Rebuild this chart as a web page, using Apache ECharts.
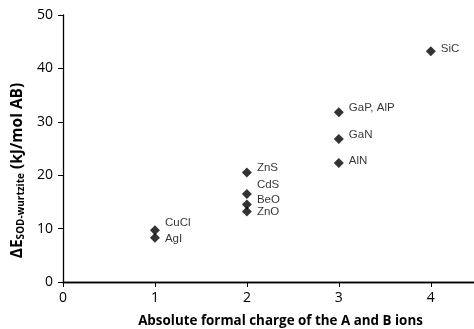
<!DOCTYPE html>
<html>
<head>
<meta charset="utf-8">
<script src="https://cdn.jsdelivr.net/npm/echarts@6/dist/echarts.min.js"></script>
<style>html,body{margin:0;padding:0;background:#fff}#c{width:474px;height:329px}</style>
</head>
<body>
<div id="c"></div>
<script>
var compounds = ['SiC', 'GaP, AlP', 'GaN', 'AlN', 'ZnS', 'CdS', 'BeO', 'ZnO', 'CuCl', 'AgI'];
var charges   = [4, 3, 3, 3, 2, 2, 2, 2, 1, 1];
var deltaE    = [43.2, 31.8, 26.8, 22.3, 20.5, 16.5, 14.5, 13.2, 9.7, 8.3];
var xTicks = [0, 1, 2, 3, 4];
var yTicks = [0, 10, 20, 30, 40, 50];

// vertical label shift (px) relative to marker
var labelDy = {'SiC': -2, 'GaP, AlP': -4, 'GaN': -4, 'AlN': -2, 'ZnS': -5, 'CdS': -9, 'BeO': -5, 'ZnO': 0, 'CuCl': -7, 'AgI': 1};

var data = compounds.map(function (n, i) {
  return {
    value: [charges[i], deltaE[i]],
    name: n,
    label: { offset: [0, labelDy[n]] }
  };
});

var chart = echarts.init(document.getElementById('c'));
chart.setOption({
  animation: false,
  grid: { left: 63, top: 15, right: 0, bottom: 47, containLabel: false, outerBoundsMode: 'none' },
  xAxis: [{
    type: 'value', min: 0, max: 4.47, interval: 1,
    axisLine: { show: true, onZero: false, lineStyle: { color: '#000', width: 1.3 } },
    axisTick: { show: true, length: 5, lineStyle: { color: '#000' } },
    axisLabel: { color: '#000', fontSize: 14, fontFamily: 'Open Sans', margin: 9,
      formatter: function (v) { return xTicks.indexOf(v) >= 0 ? String(v) : ''; } },
    splitLine: { show: false },
    name: 'Absolute formal charge of the A and B ions',
    nameLocation: 'middle', nameGap: 33,
    nameTextStyle: { color: '#000', fontSize: 13.4, fontWeight: 'bold', fontFamily: 'Open Sans', padding: [0, 0, 0, 24] }
  }, {
    type: 'value', min: 0, max: 4.47, position: 'top',
    axisLine: { show: true, lineStyle: { color: '#000', width: 1.3 } },
    axisTick: { show: false }, axisLabel: { show: false }, splitLine: { show: false }
  }],
  yAxis: {
    type: 'value', min: 0, max: 50, interval: 10,
    axisLine: { show: true, lineStyle: { color: '#000', width: 1.3 } },
    axisTick: { show: true, length: 5, lineStyle: { color: '#000' } },
    axisLabel: { color: '#000', fontSize: 14, fontFamily: 'Open Sans', margin: 10,
      formatter: function (v) { return yTicks.indexOf(v) >= 0 ? String(v) : ''; } },
    splitLine: { show: false },
    name: '{b|ΔE}{s|SOD-wurtzite}{b| (kJ/mol AB)}',
    nameLocation: 'middle', nameGap: 32, nameRotate: 90,
    nameTextStyle: {
      fontSize: 15.5, fontWeight: 'bold', fontFamily: 'Open Sans', color: '#000',
      padding: [0, 44, 0, 0],
      rich: {
        b: { fontSize: 15.5, fontWeight: 'bold', fontFamily: 'Open Sans', color: '#000' },
        s: { fontSize: 10, fontWeight: 'bold', fontFamily: 'Open Sans', color: '#000', padding: [8, 0, 0, 0] }
      }
    }
  },
  series: [{
    type: 'scatter',
    symbol: 'diamond', symbolSize: 10,
    itemStyle: { color: '#000' },
    data: data,
    label: {
      show: true, position: 'right', distance: 5,
      formatter: '{b}', color: '#000', fontSize: 11.5, fontFamily: 'Liberation Sans'
    }
  }]
});
</script>
</body>
</html>
